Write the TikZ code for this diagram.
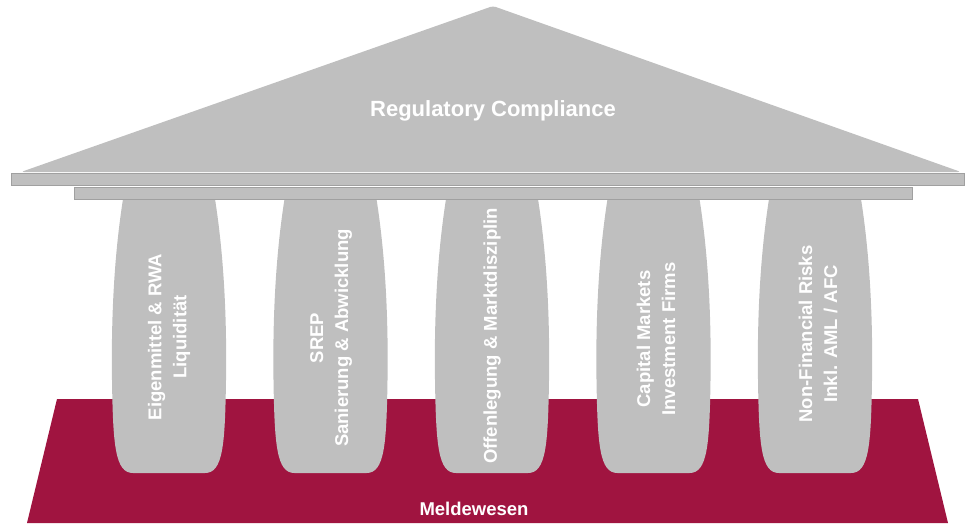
\documentclass[tikz,border=0pt]{standalone}
\usepackage{fontspec}
\setmainfont{Liberation Sans}
\usepackage{tikz}
\definecolor{grau}{RGB}{191,191,191}
\definecolor{rand}{RGB}{160,160,160}
\definecolor{bordeaux}{RGB}{160,20,64}
\tikzstyle{saeulentext}=[white,font=\bfseries\fontsize{18.5}{25}\selectfont,rotate=90,align=center,inner sep=0]
\tikzstyle{balken}=[fill=grau,draw=rand,line width=0.5pt]
\newcommand{\saeule}[1]{\fill[grau,shift={(#1,0)}] (-46,199)
  .. controls (-54,250) and (-58,310) .. (-57,380)
  .. controls (-56,445) and (-54,473) .. (-36,473) -- (36,473)
  .. controls (54,473) and (56,445) .. (57,380)
  .. controls (58,310) and (54,250) .. (46,199) -- cycle;}

\begin{document}
\begin{tikzpicture}[x=1pt,y=-1pt]
    \useasboundingbox (0,0) rectangle (965,523);

                        % Fundament
                        \fill[bordeaux] (57,399) -- (918,399) -- (948,523) -- (27,523) -- cycle;
                        \node[white,font=\bfseries\fontsize{18.5}{20}\selectfont] (melde) at (474,509) {Meldewesen};

                        % Saeulen
                        \saeule{169}
                        \saeule{330.5}
                        \saeule{492}
                        \saeule{653.5}
                        \saeule{815}

                        \node[saeulentext] (s1) at (169,337) {Eigenmittel \& RWA\\Liquidität};
                        \node[saeulentext] (s2) at (331,338) {SREP\\Sanierung \& Abwicklung};
                        \node[saeulentext] (s3) at (492,336) {Offenlegung \& Marktdisziplin};
                        \node[saeulentext] (s4) at (656,339) {Capital Markets\\Investment Firms};
                        \node[saeulentext] (s5) at (818,334) {Non-Financial Risks\\Inkl. AML / AFC};

                        % Dach
                        \fill[grau,rounded corners=3pt] (21,172) -- (493,6) -- (961,172) -- cycle;
                        \draw[balken] (11,173) rectangle (964,185);
                        \draw[balken] (74,187) rectangle (912,199);
                        \node[white,font=\bfseries\fontsize{22}{25}\selectfont] (titel) at (493,111) {Regulatory Compliance};

    \end{tikzpicture}
\end{document}
